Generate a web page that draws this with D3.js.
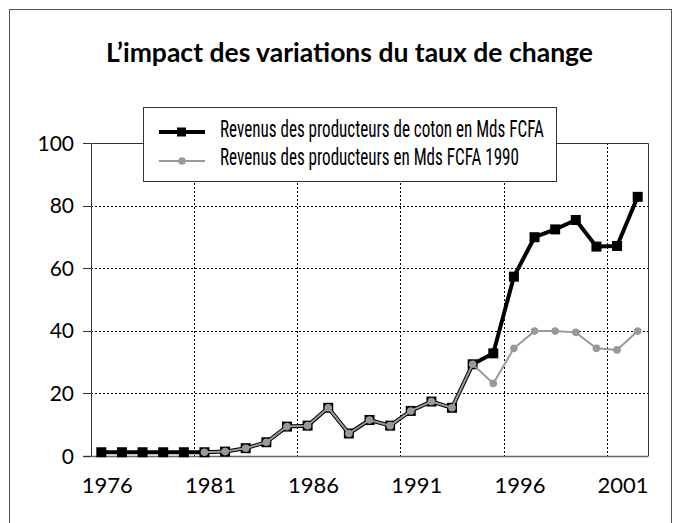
<!DOCTYPE html>
<html>
<head>
<meta charset="utf-8">
<script src="https://cdn.jsdelivr.net/npm/d3@7"></script>
<style>
  body { margin: 0; background: #fff; }
  svg { display: block; }
  .tick-label { font-family: Lato, "Open Sans", sans-serif; fill: #000; }
  .legend-text { font-family: "Liberation Sans Narrow", "Roboto Condensed", sans-serif; font-size: 23px; fill: #000; }
</style>
</head>
<body>
<div id="chart"></div>
<script>
const years = d3.range(1976, 2003);
const revenusCoton = [1.2, 1.2, 1.2, 1.2, 1.2, 1.2, 1.4, 2.5, 4.4, 9.4, 9.7, 15.4, 7.2, 11.5, 9.7, 14.4, 17.4, 15.4, 29.3, 32.8, 57.3, 69.9, 72.4, 75.4, 66.9, 67.1, 82.8];
const revenus1990 = [null, null, null, null, null, 1.2, 1.4, 2.5, 4.4, 9.4, 9.7, 15.4, 7.2, 11.5, 9.7, 14.4, 17.4, 15.4, 29.3, 23.2, 34.4, 39.9, 39.9, 39.5, 34.4, 33.9, 39.9];
const yTicks = [0, 20, 40, 60, 80, 100];
const xLabels = [1976, 1981, 1986, 1991, 1996, 2001];
const legendLabels = ['Revenus des producteurs de coton en Mds FCFA', 'Revenus des producteurs en Mds FCFA 1990'];

const width = 681, height = 523;
const plot = {left: 91, right: 648, top: 143, bottom: 456};

const svg = d3.select('#chart').append('svg')
    .attr('width', width)
    .attr('height', height);

// outer frame
svg.append('rect')
    .attr('x', 9.5).attr('y', 9.5)
    .attr('width', 662).attr('height', 540)
    .attr('fill', 'none')
    .attr('stroke', '#555')
    .attr('stroke-width', 1);

svg.append('text')
    .attr('x', 349.5).attr('y', 62)
    .attr('text-anchor', 'middle')
    .style('font-family', 'Lato, "Open Sans", sans-serif')
    .style('font-weight', 'bold')
    .style('font-size', '26.5px')
    .text('L\u2019impact des variations du taux de change');

const x = d3.scaleBand()
    .domain(years)
    .range([plot.left, plot.right]);

const y = d3.scaleLinear()
    .domain([0, 100])
    .range([plot.bottom, plot.top]);

// horizontal dotted grid
svg.append('g')
  .selectAll('line')
    .data(yTicks.filter(d => d > 0 && d < 100))
  .enter().append('line')
    .attr('x1', plot.left).attr('x2', plot.right)
    .attr('y1', d => Math.round(y(d)) + 0.5).attr('y2', d => Math.round(y(d)) + 0.5)
    .attr('stroke', '#000')
    .attr('stroke-dasharray', '2,2');

// vertical dotted grid at category boundaries
svg.append('g')
  .selectAll('line')
    .data(xLabels.slice(1))
  .enter().append('line')
    .attr('x1', d => Math.round(x(d)) + 0.5).attr('x2', d => Math.round(x(d)) + 0.5)
    .attr('y1', plot.top).attr('y2', plot.bottom)
    .attr('stroke', '#000')
    .attr('stroke-dasharray', '2,2');

// plot frame
svg.append('path')
    .attr('d', `M${plot.left + 0.5},${plot.bottom} V${plot.top + 0.5} H${plot.right + 0.5} V${plot.bottom}`)
    .attr('fill', 'none')
    .attr('stroke', '#333');
svg.append('line')
    .attr('x1', plot.left - 8).attr('x2', plot.right + 0.5)
    .attr('y1', plot.bottom + 0.5).attr('y2', plot.bottom + 0.5)
    .attr('stroke', '#666').attr('stroke-width', 1.5);

// y ticks
const yAxis = svg.append('g');
yAxis.selectAll('line')
    .data(yTicks)
  .enter().append('line')
    .attr('x1', plot.left - 8).attr('x2', plot.left)
    .attr('y1', d => Math.round(y(d)) + 0.5).attr('y2', d => Math.round(y(d)) + 0.5)
    .attr('stroke', '#333');
yAxis.selectAll('text')
    .data(yTicks)
  .enter().append('text')
    .attr('class', 'tick-label')
    .style('font-size', '21px')
    .attr('x', 74)
    .attr('y', d => y(d))
    .attr('dy', '0.36em')
    .attr('text-anchor', 'end')
    .text(d => d);

svg.append('g')
  .selectAll('text')
    .data(xLabels)
  .enter().append('text')
    .attr('class', 'tick-label')
    .style('font-size', '22px')
    .attr('x', d => x(d) + x.bandwidth() / 2 + 6)
    .attr('y', 493)
    .attr('text-anchor', 'middle')
    .text(d => d);

const cx = d => x(d) + x.bandwidth() / 2;

const line = (vals) => d3.line()
    .defined((d, i) => vals[i] != null)
    .x(d => cx(d))
    .y((d, i) => y(vals[i]))(years);

// black series
svg.append('path')
    .attr('d', line(revenusCoton))
    .attr('fill', 'none')
    .attr('stroke', '#000')
    .attr('stroke-width', 4)
    .attr('stroke-linejoin', 'round');
svg.append('g')
  .selectAll('rect')
    .data(years)
  .enter().append('rect')
    .attr('x', d => cx(d) - 5)
    .attr('y', (d, i) => y(revenusCoton[i]) - 5)
    .attr('width', 10).attr('height', 10)
    .attr('fill', '#000');

// grey series
svg.append('path')
    .attr('d', line(revenus1990))
    .attr('fill', 'none')
    .attr('stroke', '#999')
    .attr('stroke-width', 2);
svg.append('g')
  .selectAll('circle')
    .data(years.filter((d, i) => revenus1990[i] != null))
  .enter().append('circle')
    .attr('cx', d => cx(d))
    .attr('cy', d => y(revenus1990[years.indexOf(d)]))
    .attr('r', 3.8)
    .attr('fill', '#999');

// legend
const legend = svg.append('g');
legend.append('rect')
    .attr('x', 143.5).attr('y', 107.5)
    .attr('width', 413).attr('height', 74)
    .attr('fill', '#fff')
    .attr('stroke', '#333');
legend.append('line')
    .attr('x1', 159).attr('x2', 205).attr('y1', 132).attr('y2', 132)
    .attr('stroke', '#000').attr('stroke-width', 4);
legend.append('rect')
    .attr('x', 177).attr('y', 127.5).attr('width', 9).attr('height', 9)
    .attr('fill', '#000');
legend.append('line')
    .attr('x1', 159).attr('x2', 205).attr('y1', 161).attr('y2', 161)
    .attr('stroke', '#999').attr('stroke-width', 2);
legend.append('circle')
    .attr('cx', 182).attr('cy', 161).attr('r', 3.8)
    .attr('fill', '#999');
const legendText = legend.selectAll('text')
    .data(legendLabels)
  .enter().append('text')
    .attr('class', 'legend-text')
    .attr('x', 0)
    .attr('y', (d, i) => 137 + i * 28)
    .text(d => d);

// squeeze to a condensed look: first label should span about 324px
const firstW = legendText.node().getComputedTextLength();
const sx = 324 / firstW;
legendText.attr('transform', `translate(220,0) scale(${sx},1)`);
</script>
</body>
</html>
